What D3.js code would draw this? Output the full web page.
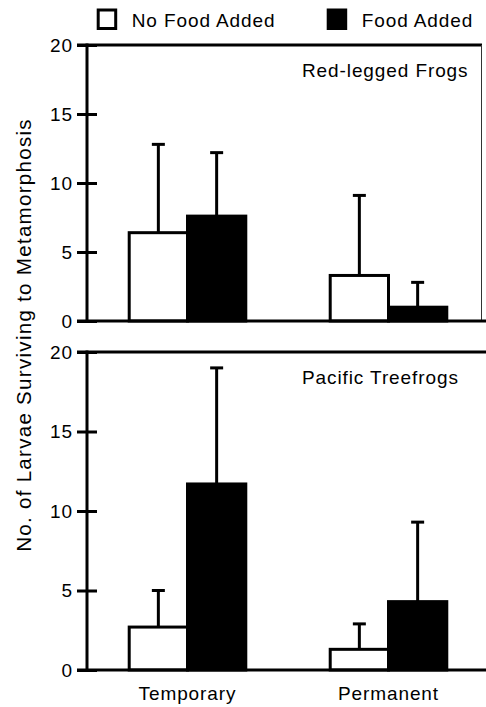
<!DOCTYPE html>
<html>
<head>
<meta charset="utf-8">
<script src="https://cdn.jsdelivr.net/npm/d3@7"></script>
<style>
  body { margin: 0; background: #fff; }
  text { font-family: "Liberation Sans", Arial, Helvetica, sans-serif; fill: #000; font-size: 19px; letter-spacing: 0.9px; }
</style>
</head>
<body>
<svg id="chart" width="486" height="707"></svg>
<script>
// data
var habitats = ["Temporary", "Permanent"];
var treatments = ["No Food Added", "Food Added"];
var treatmentFill = ["#fff", "#000"];
var yTicks = [0, 5, 10, 15, 20];

var panelNames = ["Red-legged Frogs", "Pacific Treefrogs"];
// means, [habitat][treatment]
var redLeggedMeans = [[6.4, 7.6], [3.3, 1.0]];
var redLeggedUpper = [[12.8, 12.2], [9.1, 2.8]];
var treefrogMeans = [[2.7, 11.7], [1.3, 4.3]];
var treefrogUpper = [[5.0, 19.0], [2.9, 9.3]];

var svg = d3.select('#chart');
var axisX = 87, rightX = 486;

var x = d3.scaleBand().domain(habitats).range([axisX, 489])
    .paddingInner(0.42).paddingOuter(0.21);
var xSub = d3.scaleBand().domain(treatments).range([0, x.bandwidth()]);

var panels = [
    { name: panelNames[0], means: redLeggedMeans, upper: redLeggedUpper, top: 45, bottom: 321, rightBorder: true },
    { name: panelNames[1], means: treefrogMeans, upper: treefrogUpper, top: 352, bottom: 670, rightBorder: false }
];

panels.forEach(function(p) {
    var y = d3.scaleLinear().domain([0, 20]).range([p.bottom, p.top]);
    var g = svg.append('g');

    // frame
    g.append('line').attr('x1', 77).attr('x2', p.rightBorder ? 482 : rightX)
        .attr('y1', y(20)).attr('y2', y(20))
        .attr('stroke', '#000').attr('stroke-width', 3);
    if (p.rightBorder) {
        g.append('line').attr('x1', 481.5).attr('x2', 481.5)
            .attr('y1', y(20)).attr('y2', y(0))
            .attr('stroke', '#333').attr('stroke-width', 1);
    }

    var rows = [];
    habitats.forEach(function(h, i) {
        treatments.forEach(function(t, j) {
            rows.push({ habitat: h, treatment: t, fill: treatmentFill[j], mean: p.means[i][j], upper: p.upper[i][j] });
        });
    });
    var cx = function(d) { return x(d.habitat) + xSub(d.treatment) + xSub.bandwidth() / 2 };

    // error bars first so the bar outline covers their base
    var err = g.selectAll('.err').data(rows).enter().append('g').attr('class', 'err');
    err.append('line')
        .attr('x1', cx).attr('x2', cx)
        .attr('y1', function(d) { return y(d.mean) })
        .attr('y2', function(d) { return y(d.upper) })
        .attr('stroke', '#000').attr('stroke-width', 3);
    err.append('line')
        .attr('x1', function(d) { return cx(d) - 6.5 })
        .attr('x2', function(d) { return cx(d) + 6.5 })
        .attr('y1', function(d) { return y(d.upper) })
        .attr('y2', function(d) { return y(d.upper) })
        .attr('stroke', '#000').attr('stroke-width', 3);

    g.selectAll('.bar').data(rows).enter().append('rect')
        .attr('class', 'bar')
        .attr('x', function(d) { return x(d.habitat) + xSub(d.treatment) })
        .attr('width', xSub.bandwidth())
        .attr('y', function(d) { return y(d.mean) })
        .attr('height', function(d) { return y(0) - y(d.mean) })
        .attr('fill', function(d) { return d.fill })
        .attr('stroke', '#000').attr('stroke-width', 3);

    // y axis, ticks cross the axis line
    var axis = g.append('g').attr('transform', 'translate(' + axisX + ',0)')
        .call(d3.axisLeft(y).tickValues(yTicks).tickSize(10).tickPadding(4));
    axis.select('.domain').remove();
    axis.selectAll('.tick line').attr('stroke', '#000').attr('stroke-width', 3).attr('x1', -10).attr('x2', 10);
    axis.attr('font-family', null).attr('font-size', null);
    axis.selectAll('.tick text').attr('fill', '#000');

    g.append('line').attr('x1', axisX).attr('x2', axisX)
        .attr('y1', y(20) - 1.5).attr('y2', y(0) + 1.5)
        .attr('stroke', '#000').attr('stroke-width', 3);
    g.append('line').attr('x1', 77).attr('x2', rightX)
        .attr('y1', y(0)).attr('y2', y(0))
        .attr('stroke', '#000').attr('stroke-width', 3);

    g.append('text').attr('x', 302).attr('y', p.top + 31.5).text(p.name);
});

// habitat labels
svg.selectAll('.cat').data(habitats).enter().append('text')
    .attr('class', 'cat')
    .attr('x', function(d) { return x(d) + x.bandwidth() / 2 })
    .attr('y', 700)
    .attr('text-anchor', 'middle')
    .text(function(d) { return d });

// y title
svg.append('text')
    .attr('transform', 'translate(31,335) rotate(-90)')
    .attr('text-anchor', 'middle')
    .style('font-size', '20.5px')
    .style('letter-spacing', '1.3px')
    .text('No. of Larvae Surviving to Metamorphosis');

// legend
var legendX = [98.2, 328.2];
var leg = svg.selectAll('.leg').data(treatments).enter().append('g')
    .attr('class', 'leg')
    .attr('transform', function(d, i) { return 'translate(' + legendX[i] + ',10)' });
leg.append('rect').attr('width', 17.5).attr('height', 18.5)
    .attr('fill', function(d, i) { return treatmentFill[i] })
    .attr('stroke', '#000').attr('stroke-width', 3);
leg.append('text').attr('x', 33.5).attr('y', 16.7)
    .text(function(d) { return d });
</script>
</body>
</html>
